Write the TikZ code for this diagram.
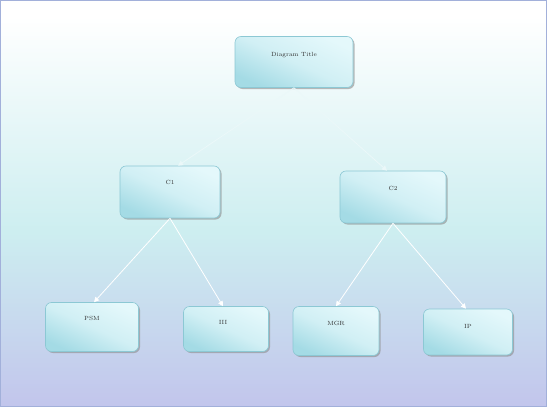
\documentclass[tikz,border=0pt]{standalone}
\usetikzlibrary{arrows.meta,shadows}
\definecolor{bgmid}{HTML}{CDEEF0}
\definecolor{bgbot}{HTML}{C2C5EC}
\definecolor{boxdark}{HTML}{A4DBE5}
\definecolor{boxlight}{HTML}{E4F8FB}
\definecolor{boxedge}{HTML}{8CC8D4}
\definecolor{frame}{HTML}{A2B0DA}
\tikzset{
  orgbox/.style={draw=boxedge, line width=0.6pt, rounded corners=6pt,
    shading=axis, top color=boxlight, bottom color=boxdark, middle color=boxlight!70!boxdark, shading angle=-25,
    drop shadow={shadow xshift=1.5pt, shadow yshift=-1.5pt, fill=black!45, opacity=0.6},
    inner sep=0pt},
  orglabel/.style={font=\fontsize{6}{7}\selectfont, text=black!80},
  link/.style={draw=white, line width=0.8pt, -{Triangle[length=5pt,width=5pt]}}
}
\begin{document}
\begin{tikzpicture}[x=1pt,y=-1pt]
\useasboundingbox (0,0) rectangle (547,407);
% background
\fill[white] (0,0) rectangle (547,16);
\shade[top color=white, bottom color=bgmid] (0,16) rectangle (547,232);
\shade[top color=bgmid, bottom color=bgbot] (0,232) rectangle (547,407);
\draw[frame, line width=0.8pt] (0.5,0.5) rectangle (546.5,406.5);
% nodes
\node[orgbox, minimum width=118pt, minimum height=51pt] (top) at (294,62) {};
\node[orglabel] at (294,55) (toplabel) {Diagram Title};
\node[orgbox, minimum width=100pt, minimum height=52pt] (c1) at (170,192) {};
\node[orglabel] at (170,182) (c1label) {C1};
\node[orgbox, minimum width=106pt, minimum height=52pt] (c2) at (393,197) {};
\node[orglabel] at (393,188) (c2label) {C2};
\node[orgbox, minimum width=93pt, minimum height=49pt] (b1) at (92,327) {};
\node[orglabel] at (92,318) (b1label) {PSM};
\node[orgbox, minimum width=85pt, minimum height=45pt] (b2) at (226,329) {};
\node[orglabel] at (223,322) (b2label) {III};
\node[orgbox, minimum width=86pt, minimum height=49pt] (b3) at (336,331) {};
\node[orglabel] at (336,323) (b3label) {MGR};
\node[orgbox, minimum width=89pt, minimum height=46pt] (b4) at (468,332) {};
\node[orglabel] at (468,326) (b4label) {IP};
% connectors
\draw[link, draw=white!60!bgmid] (top.south) -- ([xshift=8pt]c1.north);
\draw[link, draw=white!60!bgmid] (top.south) -- ([xshift=-6pt]c2.north);
\draw[link] (c1.south) -- ([xshift=2pt]b1.north);
\draw[link] (c1.south) -- ([xshift=-3pt]b2.north);
\draw[link] (c2.south) -- (b3.north);
\draw[link] (c2.south) -- ([xshift=-2pt]b4.north);
\end{tikzpicture}
\end{document}
